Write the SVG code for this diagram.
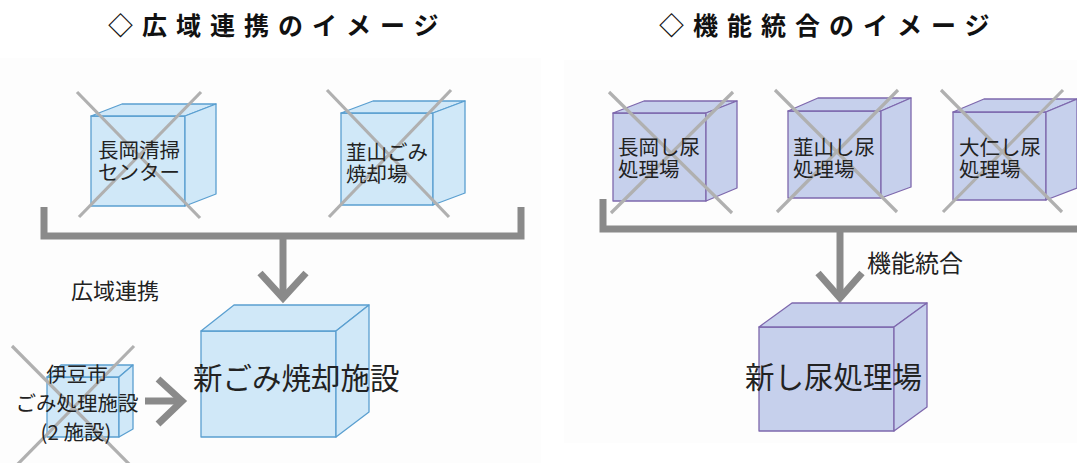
<svg xmlns="http://www.w3.org/2000/svg" width="1077" height="463" viewBox="0 0 1077 463">
<style>
.title{font-family:"Noto Sans CJK JP","Noto Sans",sans-serif;font-size:25px;font-weight:700;letter-spacing:9px;fill:#111}
.t{font-family:"Noto Sans CJK JP","Noto Sans",sans-serif;fill:#222}
.s{font-size:20.5px}
.l{font-size:29.5px}
.b{fill:#d0e8f8;stroke:#5a9fd0;stroke-width:1.3;stroke-linejoin:round}
.p{fill:#c6d0ec;stroke:#7e68ad;stroke-width:1.3;stroke-linejoin:round}
.x{stroke:#b0b0b0;stroke-width:3.2;fill:none}
.c{stroke:#8a8a8a;stroke-width:7;fill:none;stroke-linejoin:miter}
</style>
<rect width="1077" height="463" fill="#ffffff"/>
<rect x="0" y="58" width="541" height="405" fill="#fdfdfd"/>
<rect x="564" y="60" width="513" height="383" fill="#fdfdfd"/>
<text class="title" x="108" y="35">◇広域連携のイメージ</text>
<text class="title" x="659" y="35">◇機能統合のイメージ</text>

<g id="connectors">
<path class="c" d="M44,207 V236 H521 V207"/>
<path class="c" d="M283,236 V297"/>
<path class="c" d="M260,273 L283,298 L306,273"/>
<path class="c" d="M145,401 H181"/>
<path class="c" d="M158,379 L182,401 L158,424"/>
<path class="c" d="M603,199 V229 H1081"/>
<path class="c" d="M840,229 V297"/>
<path class="c" d="M818,273 L840,298 L862,273"/>
</g>

<g id="nagaoka-seiso">
<polygon class="b" points="91,116 185,116 185,206 91,206"/>
<polygon class="b" points="91,116 122,104 216,104 185,116"/>
<polygon class="b" points="185,116 216,104 216,194 185,206"/>
<line class="x" x1="77" y1="92" x2="200" y2="218"/>
<line class="x" x1="201" y1="92" x2="79" y2="217"/>
<text class="t s" x="98" y="158">長岡清掃<tspan x="98" dy="22">センター</tspan></text>
</g>

<g id="nirayama-gomi">
<polygon class="b" points="341,113 433,113 433,205 341,205"/>
<polygon class="b" points="341,113 373,101 465,101 433,113"/>
<polygon class="b" points="433,113 465,101 465,193 433,205"/>
<line class="x" x1="327" y1="90" x2="449" y2="217"/>
<line class="x" x1="451" y1="90" x2="329" y2="217"/>
<text class="t s" x="346" y="160">韮山ごみ<tspan x="346" dy="22">焼却場</tspan></text>
</g>

<g id="label-koiki">
<text class="t" x="71" y="299" font-size="22">広域連携</text>
</g>

<g id="izu-shi">
<polygon class="b" points="47,377 119,377 119,437 47,437"/>
<polygon class="b" points="47,377 61,365 133,365 119,377"/>
<polygon class="b" points="119,377 133,365 133,429 119,437"/>
<line class="x" x1="12" y1="346" x2="135" y2="470"/>
<line class="x" x1="134" y1="346" x2="12" y2="470"/>
<text class="t s" x="77" y="382" text-anchor="middle">伊豆市<tspan x="77" dy="29">ごみ処理施設</tspan><tspan x="76" dy="29">(2 施設)</tspan></text>
</g>

<g id="new-gomi">
<polygon class="b" points="201,331 336,331 336,437 201,437"/>
<polygon class="b" points="201,331 234,305 369,305 336,331"/>
<polygon class="b" points="336,331 369,305 369,412 336,437"/>
<text class="t l" x="193" y="389">新ごみ焼却施設</text>
</g>

<g id="nagaoka-shinyo">
<polygon class="p" points="613,113 706,113 706,201 613,201"/>
<polygon class="p" points="613,113 644,101 737,101 706,113"/>
<polygon class="p" points="706,113 737,101 737,188 706,201"/>
<line class="x" x1="609" y1="92" x2="732" y2="213"/>
<line class="x" x1="733" y1="92" x2="611" y2="213"/>
<text class="t s" x="618" y="155">長岡し尿<tspan x="618" dy="22">処理場</tspan></text>
</g>

<g id="nirayama-shinyo">
<polygon class="p" points="788,111 881,111 881,198 788,198"/>
<polygon class="p" points="788,111 818,98 911,98 881,111"/>
<polygon class="p" points="881,111 911,98 911,187 881,198"/>
<line class="x" x1="775" y1="90" x2="897" y2="212"/>
<line class="x" x1="898" y1="90" x2="777" y2="212"/>
<text class="t s" x="793" y="155">韮山し尿<tspan x="793" dy="22">処理場</tspan></text>
</g>

<g id="ohito-shinyo">
<polygon class="p" points="953,112 1046,112 1046,200 953,200"/>
<polygon class="p" points="953,112 984,99 1077,99 1046,112"/>
<polygon class="p" points="1046,112 1077,99 1077,188 1046,200"/>
<line class="x" x1="941" y1="90" x2="1062" y2="212"/>
<line class="x" x1="1063" y1="90" x2="943" y2="212"/>
<text class="t s" x="959" y="155">大仁し尿<tspan x="959" dy="22">処理場</tspan></text>
</g>

<g id="label-kino">
<text class="t" x="867" y="272" font-size="24">機能統合</text>
</g>

<g id="new-shinyo">
<polygon class="p" points="759,327 894,327 894,431 759,431"/>
<polygon class="p" points="759,327 792,303 927,303 894,327"/>
<polygon class="p" points="894,327 927,303 927,407 894,431"/>
<text class="t l" x="745" y="388">新し尿処理場</text>
</g>
</svg>
